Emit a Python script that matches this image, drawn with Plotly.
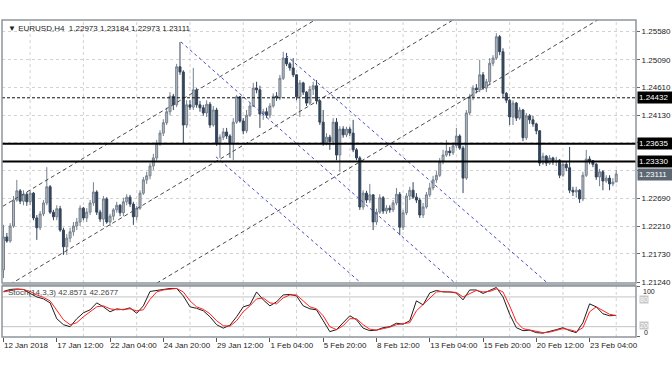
import plotly.graph_objects as go

# ---------------- data ----------------
time_labels = ["12 Jan 2018", "17 Jan 12:00", "22 Jan 04:00", "24 Jan 20:00", "29 Jan 12:00",
               "1 Feb 04:00", "5 Feb 20:00", "8 Feb 12:00", "13 Feb 04:00", "15 Feb 20:00",
               "20 Feb 12:00", "23 Feb 04:00"]
label_bars = [0, 16, 32, 48, 64, 80, 96, 112, 128, 144, 160, 176]
grid_bars = [8, 24, 40, 56, 72, 88, 104, 120, 136, 152, 168, 184]

opens = [1.2145, 1.2202, 1.2195, 1.2221, 1.2266, 1.2282, 1.2264, 1.2276, 1.2263, 1.2278,
         1.2235, 1.2218, 1.2242, 1.2261, 1.2289, 1.2245, 1.2237, 1.2251, 1.2214, 1.2185,
         1.2200, 1.2211, 1.2221, 1.2228, 1.2252, 1.2235, 1.2245, 1.2261, 1.2280, 1.2245,
         1.2233, 1.2268, 1.2228, 1.2238, 1.2249, 1.2257, 1.2244, 1.2263, 1.2271, 1.2259,
         1.2237, 1.2252, 1.2278, 1.2301, 1.2308, 1.2325, 1.2339, 1.2365, 1.2382, 1.2400,
         1.2419, 1.2446, 1.2431, 1.2497, 1.2488, 1.2396, 1.2431, 1.2427, 1.2457, 1.2431,
         1.2426, 1.2417, 1.2432, 1.2396, 1.2422, 1.2365, 1.2375, 1.2384, 1.2377, 1.2365,
         1.2401, 1.2445, 1.2403, 1.2386, 1.2413, 1.2429, 1.2460, 1.2457, 1.2415, 1.2419,
         1.2413, 1.2429, 1.2446, 1.2443, 1.2477, 1.2512, 1.2502, 1.2495, 1.2483, 1.2445,
         1.2469, 1.2453, 1.2434, 1.2458, 1.2464, 1.2438, 1.2401, 1.2365, 1.2375, 1.2367,
         1.2401, 1.2344, 1.2389, 1.2379, 1.2389, 1.2382, 1.2353, 1.2339, 1.2254, 1.2278,
         1.2266, 1.2275, 1.2228, 1.2245, 1.2270, 1.2247, 1.2252, 1.2249, 1.2261, 1.2276,
         1.2219, 1.2244, 1.2273, 1.2283, 1.2271, 1.2266, 1.2240, 1.2254, 1.2275, 1.2287,
         1.2301, 1.2309, 1.2332, 1.2344, 1.2351, 1.2348, 1.2360, 1.2377, 1.2356, 1.2304,
         1.2417, 1.2445, 1.2460, 1.2457, 1.2483, 1.2460, 1.2471, 1.2503, 1.2512, 1.2549,
         1.2523, 1.2451, 1.2439, 1.2410, 1.2434, 1.2408, 1.2422, 1.2374, 1.2412, 1.2405,
         1.2398, 1.2386, 1.2330, 1.2342, 1.2330, 1.2339, 1.2332, 1.2335, 1.2309, 1.2328,
         1.2322, 1.2283, 1.2280, 1.2283, 1.2268, 1.2309, 1.2337, 1.2334, 1.2328, 1.2306,
         1.2315, 1.2299, 1.2304, 1.2294, 1.22973]

highs = [1.2223, 1.2209, 1.2226, 1.2273, 1.2301, 1.2285, 1.2283, 1.2280, 1.2283, 1.2280,
         1.2240, 1.2247, 1.2266, 1.2323, 1.2292, 1.2249, 1.2257, 1.2256, 1.2218, 1.2207,
         1.2218, 1.2228, 1.2235, 1.2257, 1.2254, 1.2252, 1.2266, 1.2297, 1.2283, 1.2249,
         1.2273, 1.2271, 1.2242, 1.2252, 1.2263, 1.2259, 1.2270, 1.2276, 1.2275, 1.2263,
         1.2256, 1.2283, 1.2306, 1.2315, 1.2330, 1.2346, 1.2370, 1.2387, 1.2406, 1.2426,
         1.2453, 1.2450, 1.2502, 1.2540, 1.2491, 1.2439, 1.2439, 1.2495, 1.2460, 1.2438,
         1.2431, 1.2439, 1.2436, 1.2429, 1.2426, 1.2380, 1.2391, 1.2391, 1.2380, 1.2408,
         1.2448, 1.2446, 1.2408, 1.2422, 1.2434, 1.2469, 1.2471, 1.2464, 1.2424, 1.2426,
         1.2434, 1.2451, 1.2453, 1.2483, 1.2523, 1.2521, 1.2505, 1.2512, 1.2484, 1.2474,
         1.2471, 1.2455, 1.2464, 1.2471, 1.2474, 1.2439, 1.2422, 1.2382, 1.2379, 1.2408,
         1.2408, 1.2394, 1.2394, 1.2393, 1.2393, 1.2405, 1.2356, 1.2342, 1.2283, 1.2282,
         1.2294, 1.2276, 1.2251, 1.2276, 1.2273, 1.2257, 1.2257, 1.2266, 1.2287, 1.2280,
         1.2249, 1.2278, 1.2289, 1.2297, 1.2278, 1.2270, 1.2261, 1.2280, 1.2296, 1.2308,
         1.2316, 1.2339, 1.2353, 1.2370, 1.2358, 1.2365, 1.2391, 1.2380, 1.2360, 1.2422,
         1.2450, 1.2465, 1.2467, 1.2509, 1.2488, 1.2476, 1.2512, 1.2517, 1.2555, 1.2552,
         1.2529, 1.2453, 1.2441, 1.2439, 1.2436, 1.2427, 1.2424, 1.2417, 1.2415, 1.2412,
         1.2400, 1.2387, 1.2348, 1.2344, 1.2344, 1.2341, 1.2341, 1.2337, 1.2334, 1.2332,
         1.2358, 1.2289, 1.2289, 1.2285, 1.2315, 1.2353, 1.2342, 1.2335, 1.2330, 1.2320,
         1.2318, 1.2309, 1.2309, 1.2304, 1.23184]

lows = [1.2131, 1.2192, 1.2192, 1.2218, 1.2263, 1.2259, 1.2257, 1.2256, 1.2257, 1.2231,
        1.2197, 1.2214, 1.2238, 1.2257, 1.2242, 1.2231, 1.2231, 1.2211, 1.2171, 1.2171,
        1.2193, 1.2204, 1.2214, 1.2221, 1.2231, 1.2228, 1.2240, 1.2256, 1.2240, 1.2228,
        1.2221, 1.2225, 1.2221, 1.2231, 1.2244, 1.2238, 1.2238, 1.2257, 1.2254, 1.2223,
        1.2231, 1.2249, 1.2275, 1.2294, 1.2302, 1.2318, 1.2334, 1.2360, 1.2377, 1.2396,
        1.2413, 1.2422, 1.2427, 1.2483, 1.2365, 1.2391, 1.2422, 1.2422, 1.2426, 1.2419,
        1.2412, 1.2410, 1.2391, 1.2393, 1.2360, 1.2339, 1.2370, 1.2372, 1.2339, 1.2335,
        1.2398, 1.2400, 1.2380, 1.2382, 1.2410, 1.2427, 1.2451, 1.2391, 1.2405, 1.2408,
        1.2408, 1.2426, 1.2438, 1.2439, 1.2474, 1.2498, 1.2490, 1.2479, 1.2439, 1.2410,
        1.2448, 1.2429, 1.2431, 1.2448, 1.2432, 1.2396, 1.2360, 1.2361, 1.2353, 1.2361,
        1.2335, 1.2315, 1.2374, 1.2375, 1.2377, 1.2349, 1.2335, 1.2249, 1.2249, 1.2261,
        1.2261, 1.2214, 1.2223, 1.2242, 1.2242, 1.2242, 1.2244, 1.2245, 1.2257, 1.2205,
        1.2214, 1.2240, 1.2266, 1.2268, 1.2261, 1.2235, 1.2235, 1.2251, 1.2271, 1.2283,
        1.2296, 1.2306, 1.2328, 1.2341, 1.2342, 1.2344, 1.2356, 1.2353, 1.2278, 1.2301,
        1.2413, 1.2439, 1.2451, 1.2453, 1.2457, 1.2453, 1.2465, 1.2498, 1.2509, 1.2517,
        1.2443, 1.2434, 1.2396, 1.2396, 1.2403, 1.2405, 1.2368, 1.2370, 1.2398, 1.2393,
        1.2380, 1.2325, 1.2327, 1.2325, 1.2327, 1.2327, 1.2325, 1.2304, 1.2306, 1.2316,
        1.2278, 1.2273, 1.2270, 1.2261, 1.2264, 1.2306, 1.2328, 1.2323, 1.2301, 1.2290,
        1.2283, 1.2296, 1.2283, 1.2290, 1.22973]

closes = [1.2202, 1.2195, 1.2221, 1.2266, 1.2282, 1.2264, 1.2276, 1.2263, 1.2278, 1.2235,
          1.2218, 1.2242, 1.2261, 1.2289, 1.2245, 1.2237, 1.2251, 1.2214, 1.2185, 1.2200,
          1.2211, 1.2221, 1.2228, 1.2252, 1.2235, 1.2245, 1.2261, 1.2280, 1.2245, 1.2233,
          1.2268, 1.2228, 1.2238, 1.2249, 1.2257, 1.2244, 1.2263, 1.2271, 1.2259, 1.2237,
          1.2252, 1.2278, 1.2301, 1.2308, 1.2325, 1.2339, 1.2365, 1.2382, 1.2400, 1.2419,
          1.2446, 1.2431, 1.2497, 1.2488, 1.2396, 1.2431, 1.2427, 1.2457, 1.2431, 1.2426,
          1.2417, 1.2432, 1.2396, 1.2422, 1.2365, 1.2375, 1.2384, 1.2377, 1.2365, 1.2401,
          1.2445, 1.2403, 1.2386, 1.2413, 1.2429, 1.2460, 1.2457, 1.2415, 1.2419, 1.2413,
          1.2429, 1.2446, 1.2443, 1.2477, 1.2512, 1.2502, 1.2495, 1.2483, 1.2445, 1.2469,
          1.2453, 1.2434, 1.2458, 1.2464, 1.2438, 1.2401, 1.2365, 1.2375, 1.2367, 1.2401,
          1.2344, 1.2389, 1.2379, 1.2389, 1.2382, 1.2353, 1.2339, 1.2254, 1.2278, 1.2266,
          1.2275, 1.2228, 1.2245, 1.2270, 1.2247, 1.2252, 1.2249, 1.2261, 1.2276, 1.2219,
          1.2244, 1.2273, 1.2283, 1.2271, 1.2266, 1.2240, 1.2254, 1.2275, 1.2287, 1.2301,
          1.2309, 1.2332, 1.2344, 1.2351, 1.2348, 1.2360, 1.2377, 1.2356, 1.2304, 1.2417,
          1.2445, 1.2460, 1.2457, 1.2483, 1.2460, 1.2471, 1.2503, 1.2512, 1.2549, 1.2523,
          1.2451, 1.2439, 1.2410, 1.2434, 1.2408, 1.2422, 1.2374, 1.2412, 1.2405, 1.2398,
          1.2386, 1.2330, 1.2342, 1.2330, 1.2339, 1.2332, 1.2335, 1.2309, 1.2328, 1.2322,
          1.2283, 1.2280, 1.2283, 1.2268, 1.2309, 1.2337, 1.2334, 1.2328, 1.2306, 1.2315,
          1.2299, 1.2304, 1.2294, 1.2297, 1.23111]

bars = list(range(len(closes)))

stoch_bars = list(range(0, 185, 2))
stoch_k = [91, 95, 96, 95, 87, 80, 76, 68, 36, 24,
           20, 36, 48, 54, 68, 60, 50, 56, 54, 58,
           47, 62, 91, 93, 96, 97, 97, 82, 60, 57,
           52, 40, 24, 17, 23, 40, 60, 64, 90, 74,
           62, 70, 84, 85, 82, 62, 56, 54, 32, 10,
           14, 28, 42, 34, 17, 12, 13, 18, 20, 27,
           25, 32, 72, 64, 88, 93, 90, 90, 88, 74,
           94, 94, 87, 93, 99, 80, 45, 18, 12, 13,
           8, 7, 10, 14, 18, 12, 8, 28, 66, 60,
           46, 42, 42.8571]
stoch_d = [90, 93, 95, 95, 91, 84, 79, 72, 54, 34,
           24, 28, 40, 50, 60, 62, 56, 54, 55, 56,
           52, 54, 75, 90, 94, 96, 97, 90, 72, 60,
           55, 46, 32, 22, 21, 32, 50, 62, 76, 78,
           68, 66, 78, 84, 84, 72, 60, 56, 42, 20,
           14, 22, 36, 36, 24, 15, 13, 16, 19, 24,
           26, 28, 52, 64, 78, 90, 91, 90, 89, 80,
           86, 93, 90, 91, 96, 90, 62, 30, 16, 13,
           10, 8, 9, 12, 16, 14, 10, 18, 50, 60,
           52, 45, 42.2677]
stoch_levels = [80, 20]

# price scale (labels at 1.23650 / 1.23170 sit under the level boxes)
price_ticks = [1.2124, 1.2173, 1.2221, 1.2269, 1.2317, 1.2365, 1.2413, 1.2461, 1.2509, 1.2558]
price_tick_text = ["1.21240", "1.21730", "1.22210", "1.22690", "", "",
                   "1.24130", "1.24610", "1.25090", "1.25580"]

dotted_level = 1.24432
solid_levels = [1.23635, 1.23330]
last_price = 1.23111

# drawn objects: (bar, price) anchor pairs
gray_channel = [[(-2, 1.2249), (95, 1.2583)],
                [(2, 1.2120), (135, 1.2578)],
                [(46, 1.2122), (179, 1.2580)]]
pitchfork = [[(53.3, 1.2540), (137, 1.2115)],
             [(84.8, 1.2517), (165, 1.2114)],
             [(63.8, 1.2341), (109, 1.2114)]]

# ---------------- figure ----------------
MAIN_BOTTOM = 0.1704
SUB_TOP = 0.1609
GRID = "#d2d2d2"
FRAME = "#8f959b"

fig = go.Figure()

fig.add_trace(go.Candlestick(
    x=bars, open=opens, high=highs, low=lows, close=closes,
    increasing=dict(line=dict(color="#76818d", width=1), fillcolor="#b3b9c0"),
    decreasing=dict(line=dict(color="#34455a", width=1), fillcolor="#34455a"),
    whiskerwidth=0, hoverinfo="skip", showlegend=False, xaxis="x", yaxis="y"))

for seg in gray_channel:
    fig.add_trace(go.Scatter(x=[p[0] for p in seg], y=[p[1] for p in seg], mode="lines",
                             line=dict(color="#4a4a4a", width=1, dash="4px,3px"),
                             hoverinfo="skip", showlegend=False, xaxis="x", yaxis="y"))
for seg in pitchfork:
    fig.add_trace(go.Scatter(x=[p[0] for p in seg], y=[p[1] for p in seg], mode="lines",
                             line=dict(color="#4848c4", width=1, dash="3px,3px"),
                             hoverinfo="skip", showlegend=False, xaxis="x", yaxis="y"))

fig.add_trace(go.Scatter(x=stoch_bars, y=stoch_k, mode="lines",
                         line=dict(color="#1e1e1e", width=1),
                         hoverinfo="skip", showlegend=False, xaxis="x2", yaxis="y2"))
fig.add_trace(go.Scatter(x=stoch_bars, y=stoch_d, mode="lines",
                         line=dict(color="#ff2020", width=1),
                         hoverinfo="skip", showlegend=False, xaxis="x2", yaxis="y2"))

shapes = []
for b in grid_bars:
    shapes.append(dict(type="line", xref="x", yref="paper", x0=b, x1=b, y0=0, y1=1,
                       line=dict(color=GRID, width=1, dash="dot"), layer="below"))
for lv in stoch_levels:
    shapes.append(dict(type="line", xref="paper", yref="y2", x0=0, x1=1, y0=lv, y1=lv,
                       line=dict(color="#c4c4c4", width=1), layer="below"))
shapes.append(dict(type="line", xref="paper", yref="y", x0=0, x1=1, y0=dotted_level, y1=dotted_level,
                   line=dict(color="#111111", width=1, dash="3px,2px")))
for lv in solid_levels:
    shapes.append(dict(type="line", xref="paper", yref="y", x0=0, x1=1, y0=lv, y1=lv,
                       line=dict(color="#000000", width=2)))
shapes.append(dict(type="rect", xref="paper", yref="paper", x0=0, x1=1, y0=MAIN_BOTTOM, y1=1,
                   line=dict(color=FRAME, width=1.5)))
shapes.append(dict(type="rect", xref="paper", yref="paper", x0=0, x1=1, y0=SUB_TOP, y1=MAIN_BOTTOM,
                   fillcolor="#a9aeb4", line=dict(width=0)))
shapes.append(dict(type="rect", xref="paper", yref="paper", x0=0, x1=1, y0=0, y1=SUB_TOP,
                   line=dict(color=FRAME, width=1.5)))

annotations = [
    dict(xref="paper", yref="paper", x=0, y=1, xshift=4, yshift=-2, xanchor="left", yanchor="top",
         text="\u25bc EURUSD,H4  1.22973 1.23184 1.22973 1.23111", showarrow=False,
         font=dict(size=8, color="#222222")),
    dict(xref="paper", yref="y2", x=0, y=88, xshift=4, xanchor="left", yanchor="middle",
         text="Stoch(14,3,3) 42.8571 42.2677", showarrow=False,
         font=dict(size=8, color="#444444")),
]
for lv, bg in [(dotted_level, "#000000"), (solid_levels[0], "#000000"),
               (solid_levels[1], "#000000"), (last_price, "#5d6772")]:
    annotations.append(dict(xref="paper", yref="y", x=1, y=lv, xshift=1, xanchor="left",
                            yanchor="middle", text=f"{lv:.5f}", showarrow=False, bgcolor=bg,
                            borderpad=1, width=34, align="left",
                            font=dict(size=8, color="#ffffff")))
annotations += [
    dict(xref="paper", yref="y2", x=1, y=91, xshift=5, xanchor="left", yanchor="middle",
         text="100", showarrow=False, font=dict(size=7, color="#222222")),
    dict(xref="paper", yref="y2", x=1, y=8, xshift=6, xanchor="left", yanchor="middle",
         text="0", showarrow=False, font=dict(size=7, color="#222222")),
    dict(xref="paper", yref="y2", x=1, y=75, xshift=3, xanchor="left", yanchor="middle",
         text="80", showarrow=False, bgcolor="#c8c8c8", borderpad=0,
         font=dict(size=7, color="#ffffff")),
    dict(xref="paper", yref="y2", x=1, y=22, xshift=3, xanchor="left", yanchor="middle",
         text="20", showarrow=False, bgcolor="#c8c8c8", borderpad=0,
         font=dict(size=7, color="#ffffff")),
]

fig.update_layout(
    width=672, height=372,
    margin=dict(l=2, r=36, t=20, b=35),
    paper_bgcolor="white", plot_bgcolor="white",
    font=dict(family="Liberation Sans, Arial, sans-serif", size=8, color="#222222"),
    showlegend=False, boxgap=0.15,
    xaxis=dict(domain=[0, 1], anchor="y", range=[-0.45, 189.94], showticklabels=False,
               showgrid=False, zeroline=False, ticks="", rangeslider=dict(visible=False)),
    yaxis=dict(domain=[MAIN_BOTTOM, 1], anchor="x", side="right", range=[1.21223, 1.2578],
               tickvals=price_ticks, ticktext=price_tick_text, showgrid=True, gridcolor=GRID,
               griddash="dot", zeroline=False, ticks="outside", ticklen=3, tickcolor="#666666",
               tickfont=dict(size=8, color="#222222")),
    xaxis2=dict(domain=[0, 1], anchor="y2", matches="x", tickvals=label_bars, ticktext=time_labels,
                ticks="outside", ticklen=4, tickcolor="#555555", ticklabelposition="outside right",
                tickangle=0, showgrid=False, zeroline=False, tickfont=dict(size=8, color="#222222")),
    yaxis2=dict(domain=[0, SUB_TOP], anchor="x2", side="right", range=[-0.8, 102],
                tickvals=[0, 100], showticklabels=False, ticks="outside", ticklen=3,
                tickcolor="#666666", showgrid=False, zeroline=False),
    shapes=shapes, annotations=annotations,
)

fig.write_html("out.html", config={"displayModeBar": False},
               post_script="document.body.style.margin='0';")
